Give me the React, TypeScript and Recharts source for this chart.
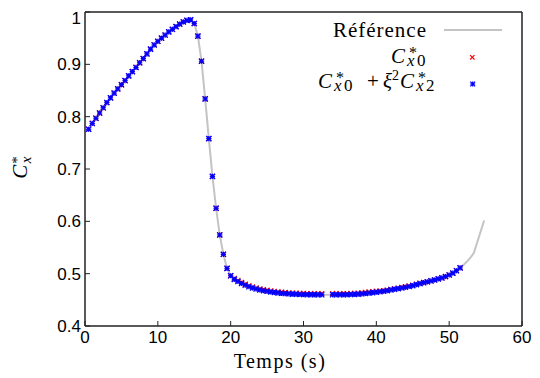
import React from 'react';
import { ComposedChart, Line, Scatter, XAxis, YAxis, Legend } from 'recharts';

const times = [0.5, 1, 1.5, 2, 2.5, 3, 3.5, 4, 4.5, 5, 5.5, 6, 6.5, 7, 7.5, 8, 8.5, 9, 9.5, 10, 10.5, 11, 11.5, 12, 12.5, 13, 13.5, 14, 14.5, 15, 15.5, 16, 16.5, 17, 17.5, 18, 18.5, 19, 19.5, 20, 20.5, 21, 21.5, 22, 22.5, 23, 23.5, 24, 24.5, 25, 25.5, 26, 26.5, 27, 27.5, 28, 28.5, 29, 29.5, 30, 30.5, 31, 31.5, 32, 32.5, 33, 33.5, 34, 34.5, 35, 35.5, 36, 36.5, 37, 37.5, 38, 38.5, 39, 39.5, 40, 40.5, 41, 41.5, 42, 42.5, 43, 43.5, 44, 44.5, 45, 45.5, 46, 46.5, 47, 47.5, 48, 48.5, 49, 49.5, 50, 50.5, 51, 51.5];

const blueVals: (number | null)[] = [
  0.776, 0.787, 0.797, 0.807, 0.817, 0.827, 0.836, 0.845, 0.853, 0.861, 0.869, 0.878, 0.886, 0.894, 0.903, 0.911, 0.920, 0.929,
  0.937, 0.944, 0.950, 0.956, 0.962, 0.967, 0.972, 0.977, 0.981, 0.984, 0.985,
  0.978, 0.954, 0.906, 0.834, 0.758, 0.686, 0.625, 0.574, 0.537, 0.510, 0.496,
  0.489, 0.485, 0.4815, 0.478, 0.475, 0.4726, 0.4707, 0.469, 0.4675, 0.4663, 0.465, 0.464, 0.4632, 0.4625, 0.462, 0.4615, 0.461, 0.4607, 0.4604, 0.4602, 0.46, 0.4599, 0.4598, 0.4597, 0.4597,
  null, null,
  0.4597, 0.4597, 0.4598, 0.4599, 0.46, 0.4602, 0.4605, 0.461, 0.4615, 0.4622, 0.463, 0.4637, 0.4645, 0.4655, 0.4665, 0.4677, 0.469, 0.4702, 0.4715, 0.4727, 0.474, 0.4755, 0.477, 0.479, 0.481, 0.4828, 0.4845, 0.4862, 0.488, 0.490, 0.492, 0.4945, 0.4975, 0.501, 0.5056, 0.511,
];

const redVals: (number | null)[] = [
  0.776, 0.787, 0.797, 0.807, 0.817, 0.827, 0.836, 0.845, 0.853, 0.861, 0.869, 0.878, 0.886, 0.894, 0.903, 0.911, 0.920, 0.929,
  0.937, 0.944, 0.950, 0.956, 0.962, 0.967, 0.972, 0.977, 0.981, 0.984, 0.985,
  0.978, 0.954, 0.906, 0.834, 0.758, 0.686, 0.625, 0.574, 0.537, 0.510, 0.496,
  0.491, 0.487, 0.4835, 0.480, 0.477, 0.4746, 0.4727, 0.471, 0.4695, 0.4683, 0.467, 0.466, 0.4652, 0.4645, 0.464, 0.4635, 0.463, 0.4627, 0.4624, 0.4622, 0.462, 0.4619, 0.4618, 0.4617, 0.4617,
  null, null,
  0.4617, 0.4617, 0.4618, 0.4619, 0.462, 0.4622, 0.4625, 0.463, 0.4635, 0.4642, 0.465, 0.4657, 0.4665,
  0.4665, 0.4675, 0.4687, 0.470, 0.4712, 0.4725, 0.4737, 0.475, 0.4765, 0.478, 0.480, 0.482,
  0.4828, 0.4845, 0.4862, 0.488, 0.490, 0.492, 0.4945, 0.4975, 0.501, 0.5056, 0.511,
];

const refTimes = [0.5, 1, 1.5, 2, 2.5, 3, 3.5, 4, 4.5, 5, 5.5, 6, 6.5, 7, 7.5, 8, 8.5, 9, 9.5, 10, 10.5, 11, 11.5, 12, 12.5, 13, 13.5, 14, 14.5, 15, 15.5, 16, 16.5, 17, 17.5, 18, 18.5, 19, 19.5, 20, 20.5, 21, 21.5, 22, 22.5, 23, 23.5, 24, 24.5, 25, 25.5, 26, 26.5, 27, 27.5, 28, 28.5, 29, 29.5, 30, 30.5, 31, 31.5, 32, 32.5, 33, 33.5, 34, 34.5, 35, 35.5, 36, 36.5, 37, 37.5, 38, 38.5, 39, 39.5, 40, 40.5, 41, 41.5, 42, 42.5, 43, 43.5, 44, 44.5, 45, 45.5, 46, 46.5, 47, 47.5, 48, 48.5, 49, 49.5, 50, 50.5, 51, 51.5, 52, 52.5, 53, 53.4, 54.8];

const refVals = [
  0.776, 0.787, 0.797, 0.807, 0.817, 0.827, 0.836, 0.845, 0.853, 0.861, 0.869, 0.878, 0.886, 0.894, 0.903, 0.911, 0.920, 0.929,
  0.937, 0.944, 0.950, 0.956, 0.962, 0.967, 0.972, 0.977, 0.981, 0.984, 0.985,
  0.978, 0.954, 0.906, 0.834, 0.758, 0.686, 0.625, 0.574, 0.537, 0.510, 0.496,
  0.489, 0.485, 0.4815, 0.478, 0.475, 0.4726, 0.4707, 0.469, 0.4675, 0.4663, 0.465, 0.464, 0.4632, 0.4625, 0.462, 0.4615, 0.461, 0.4607, 0.4604, 0.4602, 0.46, 0.4599, 0.4598, 0.4597, 0.4597,
  0.4597, 0.4597,
  0.4597, 0.4597, 0.4598, 0.4599, 0.46, 0.4602, 0.4605, 0.461, 0.4615, 0.4622, 0.463, 0.4637, 0.4645, 0.4655, 0.4665, 0.4677, 0.469, 0.4702, 0.4715, 0.4727, 0.474, 0.4755, 0.477, 0.479, 0.481, 0.4828, 0.4845, 0.4862, 0.488, 0.490, 0.492, 0.4945, 0.4975, 0.501, 0.5056, 0.511,
  0.517, 0.524, 0.532, 0.540, 0.6015,
];

const xTicks = [0, 10, 20, 30, 40, 50, 60];
const yTicks = [0.4, 0.5, 0.6, 0.7, 0.8, 0.9, 1];

const seriesNames = ['Référence', 'C*x0', 'C*x0 + ξ²C*x2'];
const REF_COLOR = '#c4c4c4';
const RED = '#ff0000';
const BLUE = '#0000ff';
const SERIF = "'Times New Roman', 'Liberation Serif', Times, serif";
const SANS = "'Liberation Sans', Arial, sans-serif";
const AXIS = '#222';
const serifStyle = { fontFamily: SERIF };

const refData = refTimes.map((t, i) => ({ t, v: refVals[i] }));
const redData = times.map((t, i) => ({ t, v: redVals[i] })).filter((d) => d.v !== null);
const blueData = times.map((t, i) => ({ t, v: blueVals[i] })).filter((d) => d.v !== null);

const Cross = ({ cx, cy, s = 2.5, color = RED }: any) => (
  <g>
    <line x1={cx - s} y1={cy - s} x2={cx + s} y2={cy + s} stroke={color} strokeWidth={1.1} />
    <line x1={cx - s} y1={cy + s} x2={cx + s} y2={cy - s} stroke={color} strokeWidth={1.1} />
  </g>
);

const Star = ({ cx, cy, s = 2.6, color = BLUE }: any) => (
  <g>
    <line x1={cx - s} y1={cy - s} x2={cx + s} y2={cy + s} stroke={color} strokeWidth={1.3} />
    <line x1={cx - s} y1={cy + s} x2={cx + s} y2={cy - s} stroke={color} strokeWidth={1.3} />
    <line x1={cx - s} y1={cy} x2={cx + s} y2={cy} stroke={color} strokeWidth={1.3} />
    <line x1={cx} y1={cy - s} x2={cx} y2={cy + s} stroke={color} strokeWidth={1.3} />
  </g>
);

// tspans for C with stacked superscript * and subscript x<sub>
const cStar = (x: number, y: number, sub: string, key: string) => [
  <tspan key={key + 'c'} x={x} y={y} fontStyle="italic">C</tspan>,
  <tspan key={key + 's'} x={x + 18} y={y - 5} fontSize={16}>*</tspan>,
  <tspan key={key + 'x'} x={x + 16} y={y + 3} fontSize={17} fontStyle="italic">x</tspan>,
  <tspan key={key + 'n'} x={x + 26} y={y + 3} fontSize={17}>{sub}</tspan>,
];

const LegendContent = () => (
  <svg width={240} height={100} style={{ display: 'block', overflow: 'visible' }}>
    <text x={119} y={29} textAnchor="end" style={serifStyle} fontSize={21} letterSpacing={1} fill="#000">
      {seriesNames[0]}
    </text>
    <line x1={136} y1={22} x2={194} y2={22} stroke={REF_COLOR} strokeWidth={2} />
    <text style={serifStyle} fontSize={21} fill="#000">{cStar(83, 55, '0', 'a')}</text>
    <Cross cx={164.3} cy={49.3} s={2.2} />
    <text style={serifStyle} fontSize={21} fill="#000">
      {cStar(10, 80, '0', 'b')}
      <tspan x={59} y={80}>+</tspan>
      <tspan x={75} y={80} fontStyle="italic">ξ</tspan>
      <tspan x={84} y={72} fontSize={14}>2</tspan>
      {cStar(92, 80, '2', 'c')}
    </text>
    <Star cx={164.7} cy={76} s={2.4} />
  </svg>
);

const XTitle = (props: any) => {
  const vb = props.viewBox || { x: 77, y: 318, width: 437, height: 52 };
  return (
    <text x={vb.x + 195} y={vb.y + 42} textAnchor="middle" style={serifStyle} fontSize={20} letterSpacing={1.5} fill="#000">
      Temps (s)
    </text>
  );
};

const YTitle = (props: any) => {
  const vb = props.viewBox || { x: 0, y: 4, width: 77, height: 314 };
  const cx = vb.x + 19;
  const cy = vb.y + vb.height / 2 - 1.5;
  return (
    <text transform={`rotate(-90 ${cx} ${cy})`} x={cx} y={cy} textAnchor="middle" style={serifStyle} fontSize={21} fill="#000">
      <tspan fontStyle="italic">C</tspan>
      <tspan fontSize={15} dx={1} dy={-5}>*</tspan>
      <tspan fontSize={15} fontStyle="italic" dx={-7} dy={9}>x</tspan>
    </text>
  );
};

const tickStyle = { fill: '#000', fontSize: 17, fontFamily: SANS };

export default function App() {
  return (
    <ComposedChart width={532} height={370} margin={{ top: 3, right: 17, bottom: 0, left: 0 }}>
      <XAxis
        dataKey="t"
        type="number"
        domain={[0, 60]}
        ticks={xTicks}
        height={52}
        tickSize={-5}
        tickMargin={10}
        tick={tickStyle}
        axisLine={{ stroke: AXIS, strokeWidth: 1.5 }}
        tickLine={{ stroke: AXIS, strokeWidth: 1 }}
        label={(p: any) => <XTitle {...p} />}
      />
      <XAxis
        xAxisId="top"
        orientation="top"
        type="number"
        domain={[0, 60]}
        ticks={xTicks}
        height={1}
        tickSize={-5}
        tick={false}
        axisLine={{ stroke: AXIS, strokeWidth: 1.5 }}
        tickLine={{ stroke: AXIS, strokeWidth: 1 }}
      />
      <YAxis
        type="number"
        domain={[0.4, 1]}
        ticks={yTicks}
        width={77}
        tickSize={-5}
        tickMargin={9}
        tick={tickStyle}
        tickFormatter={(v: number) => String(v)}
        axisLine={{ stroke: AXIS, strokeWidth: 1.5 }}
        tickLine={{ stroke: AXIS, strokeWidth: 1 }}
        label={(p: any) => <YTitle {...p} />}
      />
      <YAxis
        yAxisId="right"
        orientation="right"
        type="number"
        domain={[0.4, 1]}
        ticks={yTicks}
        width={1}
        tickSize={-5}
        tick={false}
        axisLine={{ stroke: AXIS, strokeWidth: 1.5 }}
        tickLine={{ stroke: AXIS, strokeWidth: 1 }}
      />
      <Line
        data={refData}
        dataKey="v"
        name={seriesNames[0]}
        stroke={REF_COLOR}
        strokeWidth={2}
        dot={false}
        activeDot={false}
        type="linear"
        isAnimationActive={false}
      />
      <Scatter
        data={redData}
        dataKey="v"
        name={seriesNames[1]}
        fill={RED}
        shape={(p: any) => <Cross cx={p.cx} cy={p.cy} />}
        isAnimationActive={false}
      />
      <Scatter
        data={blueData}
        dataKey="v"
        name={seriesNames[2]}
        fill={BLUE}
        shape={(p: any) => <Star cx={p.cx} cy={p.cy} />}
        isAnimationActive={false}
      />
      <Legend
        align="center"
        verticalAlign="middle"
        layout="horizontal"
        content={() => <LegendContent />}
        wrapperStyle={{ position: 'absolute', left: 300, top: 0, width: 240, height: 100 }}
      />
    </ComposedChart>
  );
}
